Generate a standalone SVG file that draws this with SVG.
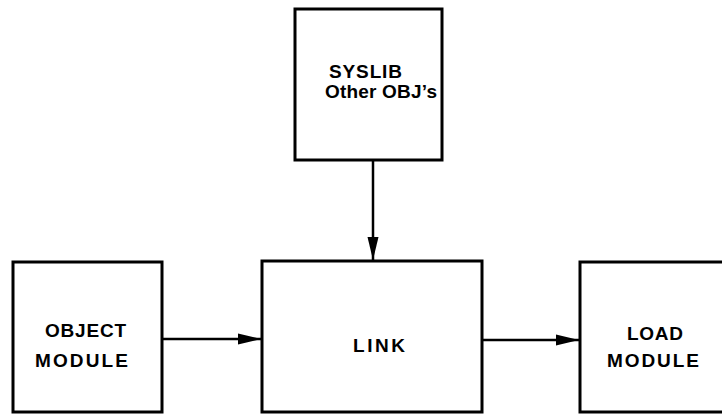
<svg xmlns="http://www.w3.org/2000/svg" width="722" height="415" viewBox="0 0 722 415">
<style>
.box{fill:#fff;stroke:#000;stroke-width:3}
.lbl{font-family:"Liberation Sans",Arial,sans-serif;font-weight:bold;font-size:19px;fill:#000}
.con{stroke:#000;stroke-width:2.5;fill:none}
</style>
<defs>
<marker id="ah" markerUnits="userSpaceOnUse" markerWidth="24" markerHeight="12" refX="23" refY="6" orient="auto">
<path d="M0,0.5 L23,6 L0,11.5 Z" fill="#000"/>
</marker>
</defs>
<rect width="722" height="415" fill="#fff"/>
<g id="syslib">
<rect class="box" x="295" y="9" width="147" height="151"/>
<text class="lbl" x="329" y="78" textLength="73" lengthAdjust="spacing">SYSLIB</text>
<text class="lbl" x="325" y="98" textLength="112" lengthAdjust="spacing">Other OBJ’s</text>
</g>
<g id="object">
<rect class="box" x="13" y="262" width="149" height="150"/>
<text class="lbl" x="45" y="337" textLength="81" lengthAdjust="spacing">OBJECT</text>
<text class="lbl" x="35" y="367" textLength="93" lengthAdjust="spacing">MODULE</text>
</g>
<g id="link">
<rect class="box" x="262" y="261" width="220" height="151"/>
<text class="lbl" x="353" y="352" textLength="52" lengthAdjust="spacing">LINK</text>
</g>
<g id="load">
<path class="box" d="M725,262 L580,262 L580,412 L725,412"/>
<text class="lbl" x="627" y="340" textLength="56" lengthAdjust="spacing">LOAD</text>
<text class="lbl" x="607" y="367" textLength="92" lengthAdjust="spacing">MODULE</text>
</g>
<g id="connectors">
<line class="con" x1="373" y1="160" x2="373" y2="260" marker-end="url(#ah)"/>
<line class="con" x1="162" y1="339" x2="261" y2="339" marker-end="url(#ah)"/>
<line class="con" x1="482" y1="340" x2="579" y2="340" marker-end="url(#ah)"/>
</g>
</svg>
